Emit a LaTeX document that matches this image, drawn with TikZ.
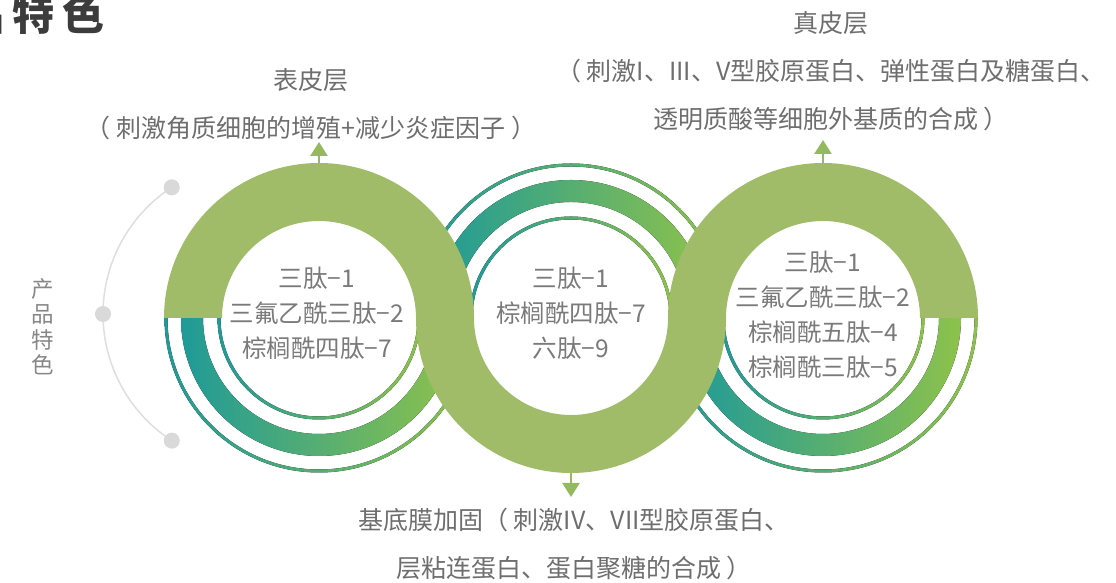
\documentclass[tikz,border=0pt]{standalone}
\usepackage{fontspec}
\setmainfont{Noto Sans CJK SC}
\usepackage{tikz}
\usetikzlibrary{positioning,arrows.meta,calc}
\definecolor{palTeal}{HTML}{1F9A98}
\definecolor{palLime}{HTML}{8DC24B}
\definecolor{palBand}{HTML}{A0BC69}
\definecolor{palArrow}{HTML}{95B95E}
\definecolor{palText}{HTML}{6E6E6E}
\definecolor{palRingText}{HTML}{7A7A7A}
\definecolor{palTitle}{HTML}{3C3C3C}
\definecolor{palDot}{HTML}{D9D9D9}
\definecolor{palArc}{HTML}{DEDEDE}
\tikzset{
  bandfill/.style={fill=palBand},
  gradband/.style={left color=palTeal, right color=palLime},
  labeltext/.style={font=\fontsize{25}{48}\selectfont, text=palText,
                    align=center, inner sep=0pt},
  ringtext/.style={font=\fontsize{24.5}{35}\selectfont, text=palRingText,
                   align=center, inner sep=0pt},
  layerarrow/.style={-{Triangle[width=17pt,length=14pt]}, line width=2.5pt,
                     draw=palArrow},
  graydot/.style={circle, fill=palDot, minimum size=16pt, inner sep=0pt},
}
\begin{document}
\begin{tikzpicture}[x=1pt, y=1pt]
\useasboundingbox (0,0) rectangle (1116,583);
%% Title (cut at the page edge)
\node[anchor=east, font=\fontsize{42}{42}\selectfont\bfseries, text=palTitle, inner sep=0pt]
  (title) at (105,569) {品\hspace{8pt}特\hspace{8pt}色};
%% Side bracket
\draw[palArc, line width=1.5pt] ($(254,269)+(123:151)$) arc[start angle=123, end angle=237, radius=151pt];
\node[graydot] (dtop) at ($(254,269)+(123:151)$) {};
\node[graydot] (dmid) at ($(254,269)+(180:151)$) {};
\node[graydot] (dbot) at ($(254,269)+(237:151)$) {};
\node[font=\fontsize{22.5}{25.5}\selectfont, text=palRingText!90!white, align=center, inner sep=0pt]
  (side) at (43,256) {产\\品\\特\\色};
%% Gradient half rings
\foreach \cx/\a in {319/180, 571/0, 823/180}
  \foreach \ri/\ro in {98.5/101.5, 116/138, 151.5/154.5}
    \fill[gradband] ({\cx+\ro*cos(\a)},265) arc[start angle=\a, end angle=\a+180, radius=\ro pt]
      -- ({\cx+\ri*cos(\a+180)},265) arc[start angle=\a+180, end angle=\a, radius=\ri pt] -- cycle;
%% Green half rings (one S-shaped band)
\foreach \cx/\a in {319/0, 571/180, 823/0}
  \fill[bandfill] ({\cx+155*cos(\a)},265) arc[start angle=\a, end angle=\a+180, radius=155pt]
    -- ({\cx+97*cos(\a+180)},265) arc[start angle=\a+180, end angle=\a, radius=97pt] -- cycle;
%% Ring texts
\node[ringtext] (left) at (317,270) {三肽−1\\三氟乙酰三肽−2\\棕榈酰四肽−7};
\node[ringtext] (mid) at (571,270) {三肽−1\\棕榈酰四肽−7\\六肽−9};
\node[ringtext] (right) at (823,268) {三肽−1\\三氟乙酰三肽−2\\棕榈酰五肽−4\\棕榈酰三肽−5};
%% Layer labels
\node[labeltext] (epi) at (311,479) {表皮层\\（ 刺激角质细胞的增殖+减少炎症因子 ）};
\node[labeltext] (derm) at (831,512) {真皮层\\（ 刺激I、III、V型胶原蛋白、弹性蛋白及糖蛋白、\\透明质酸等细胞外基质的合成 ）};
\node[labeltext] (base) at (574,39) {基底膜加固（ 刺激IV、VII型胶原蛋白、\\层粘连蛋白、蛋白聚糖的合成 ）};
%% Arrows
\coordinate (epiFoot) at (319,420);
\coordinate (epiTip) at (319,441);
\coordinate (dermFoot) at (823,420);
\coordinate (dermTip) at (823,443);
\coordinate (baseFoot) at (571,110);
\coordinate (baseTip) at (571,86);
\draw[layerarrow] (epiFoot) -- (epiTip);
\draw[layerarrow] (dermFoot) -- (dermTip);
\draw[layerarrow] (baseFoot) -- (baseTip);
\end{tikzpicture}
\end{document}
